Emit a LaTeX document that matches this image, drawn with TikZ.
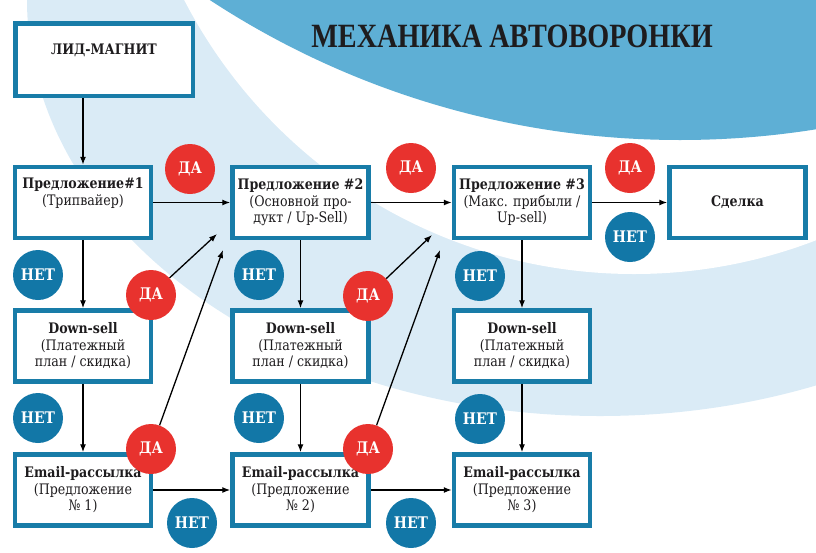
\documentclass[tikz,border=0pt]{standalone}
\usepackage{fontspec}
\setmainfont{DejaVu Serif}
\newfontfamily\boxfont[FakeStretch=0.87]{DejaVu Serif}
\newfontfamily\titlefont[FakeStretch=0.83]{Liberation Serif}
\usetikzlibrary{arrows.meta,positioning,calc}
\definecolor{frame}{RGB}{24,124,168}
\definecolor{netblue}{RGB}{18,119,167}
\definecolor{dared}{RGB}{232,50,46}
\definecolor{skyblue}{RGB}{94,175,213}
\definecolor{paleblue}{RGB}{218,235,246}
\definecolor{ink}{RGB}{30,28,30}

\begin{document}
\begin{tikzpicture}[x=1pt,y=-1pt,
  every node/.style={font=\boxfont\fontsize{14.5}{16.5}\selectfont,text=ink},
  box/.style={draw=frame,line width=4.5pt,fill=white,minimum width=136pt,minimum height=71pt,align=center,inner sep=0pt},
  da/.style={circle,fill=dared,text=white,minimum size=50pt,inner sep=0pt,font=\boxfont\bfseries\fontsize{16}{16}\selectfont},
  net/.style={da,fill=netblue},
  arr/.style={-{Latex[length=8pt,width=6pt]},line width=1.3pt,black}]
\useasboundingbox (0,0) rectangle (816,552);
% background
\begin{scope}
\clip (0,0) rectangle (816,552);
\fill[paleblue] (600,0) ellipse [x radius=573, y radius=416];
\fill[white] (634,-232) circle [radius=506];
\fill[skyblue] (680,-719) circle [radius=859];
\end{scope}
\node[font=\titlefont\bfseries\fontsize{34}{34}\selectfont] (title) at (512,36) {МЕХАНИКА АВТОВОРОНКИ};
% boxes
\node[box,minimum width=177.5pt,minimum height=72.5pt] (lm) at (104,59.5) {\textbf{ЛИД-МАГНИТ}\\ \strut};
\node[box] (p1) at (83,202.5) {\textbf{Предложение\#1}\\(Трипвайер)\\ \strut};
\node[box] (p2) at (300.5,202.5) {\textbf{Предложение \#2}\\(Основной про-\\дукт / Up-Sell)};
\node[box] (p3) at (522,202.5) {\textbf{Предложение \#3}\\(Макс. прибыли /\\Up-sell)};
\node[box] (deal) at (737.5,202.5) {\textbf{Сделка}};
\node[box] (ds1) at (83,346) {\textbf{Down-sell}\\(Платежный\\план / скидка)};
\node[box] (ds2) at (300.5,346) {\textbf{Down-sell}\\(Платежный\\план / скидка)};
\node[box] (ds3) at (522,346) {\textbf{Down-sell}\\(Платежный\\план / скидка)};
\node[box] (e1) at (83,490) {\textbf{Email-рассылка}\\(Предложение\\№ 1)};
\node[box] (e2) at (300.5,490) {\textbf{Email-рассылка}\\(Предложение\\№ 2)};
\node[box] (e3) at (522,490) {\textbf{Email-рассылка}\\(Предложение\\№ 3)};
% yes / no
\node[da] (da1) at (190,169) {ДА};
\node[da] (da2) at (411,168) {ДА};
\node[da] (da3) at (630,168) {ДА};
\node[net] (net0) at (630,237) {НЕТ};
\node[net] (net1) at (38,275) {НЕТ};
\node[net] (net2) at (259,275) {НЕТ};
\node[net] (net3) at (480,276) {НЕТ};
\node[da] (da4) at (151,295) {ДА};
\node[da] (da5) at (368,296) {ДА};
\node[net] (net4) at (38,418) {НЕТ};
\node[net] (net5) at (259,418) {НЕТ};
\node[net] (net8) at (480,419) {НЕТ};
\node[da] (da6) at (151,449) {ДА};
\node[da] (da7) at (368,449) {ДА};
\node[net] (net6) at (192,523) {НЕТ};
\node[net] (net7) at (411,523) {НЕТ};
% arrows
\coordinate (up1) at (217,234);
\coordinate (up2) at (223,250);
\coordinate (up3) at (432,235);
\coordinate (up4) at (440,250);
\draw[arr] (lm.south -| p1.north) -- (p1.north);
\draw[arr] (p1) -- (p2);
\draw[arr] (p2) -- (p3);
\draw[arr] (p3) -- (deal);
\draw[arr] (p1) -- (ds1);
\draw[arr] (p2) -- (ds2);
\draw[arr] (p3) -- (ds3);
\draw[arr] (ds1) -- (e1);
\draw[arr] (ds2) -- (e2);
\draw[arr] (ds3) -- (e3);
\draw[arr] (e1) -- (e2);
\draw[arr] (e2) -- (e3);
\draw[arr] (da4) -- (up1);
\draw[arr] (da6) -- (up2);
\draw[arr] (da5) -- (up3);
\draw[arr] (da7) -- (up4);
\end{tikzpicture}
\end{document}
